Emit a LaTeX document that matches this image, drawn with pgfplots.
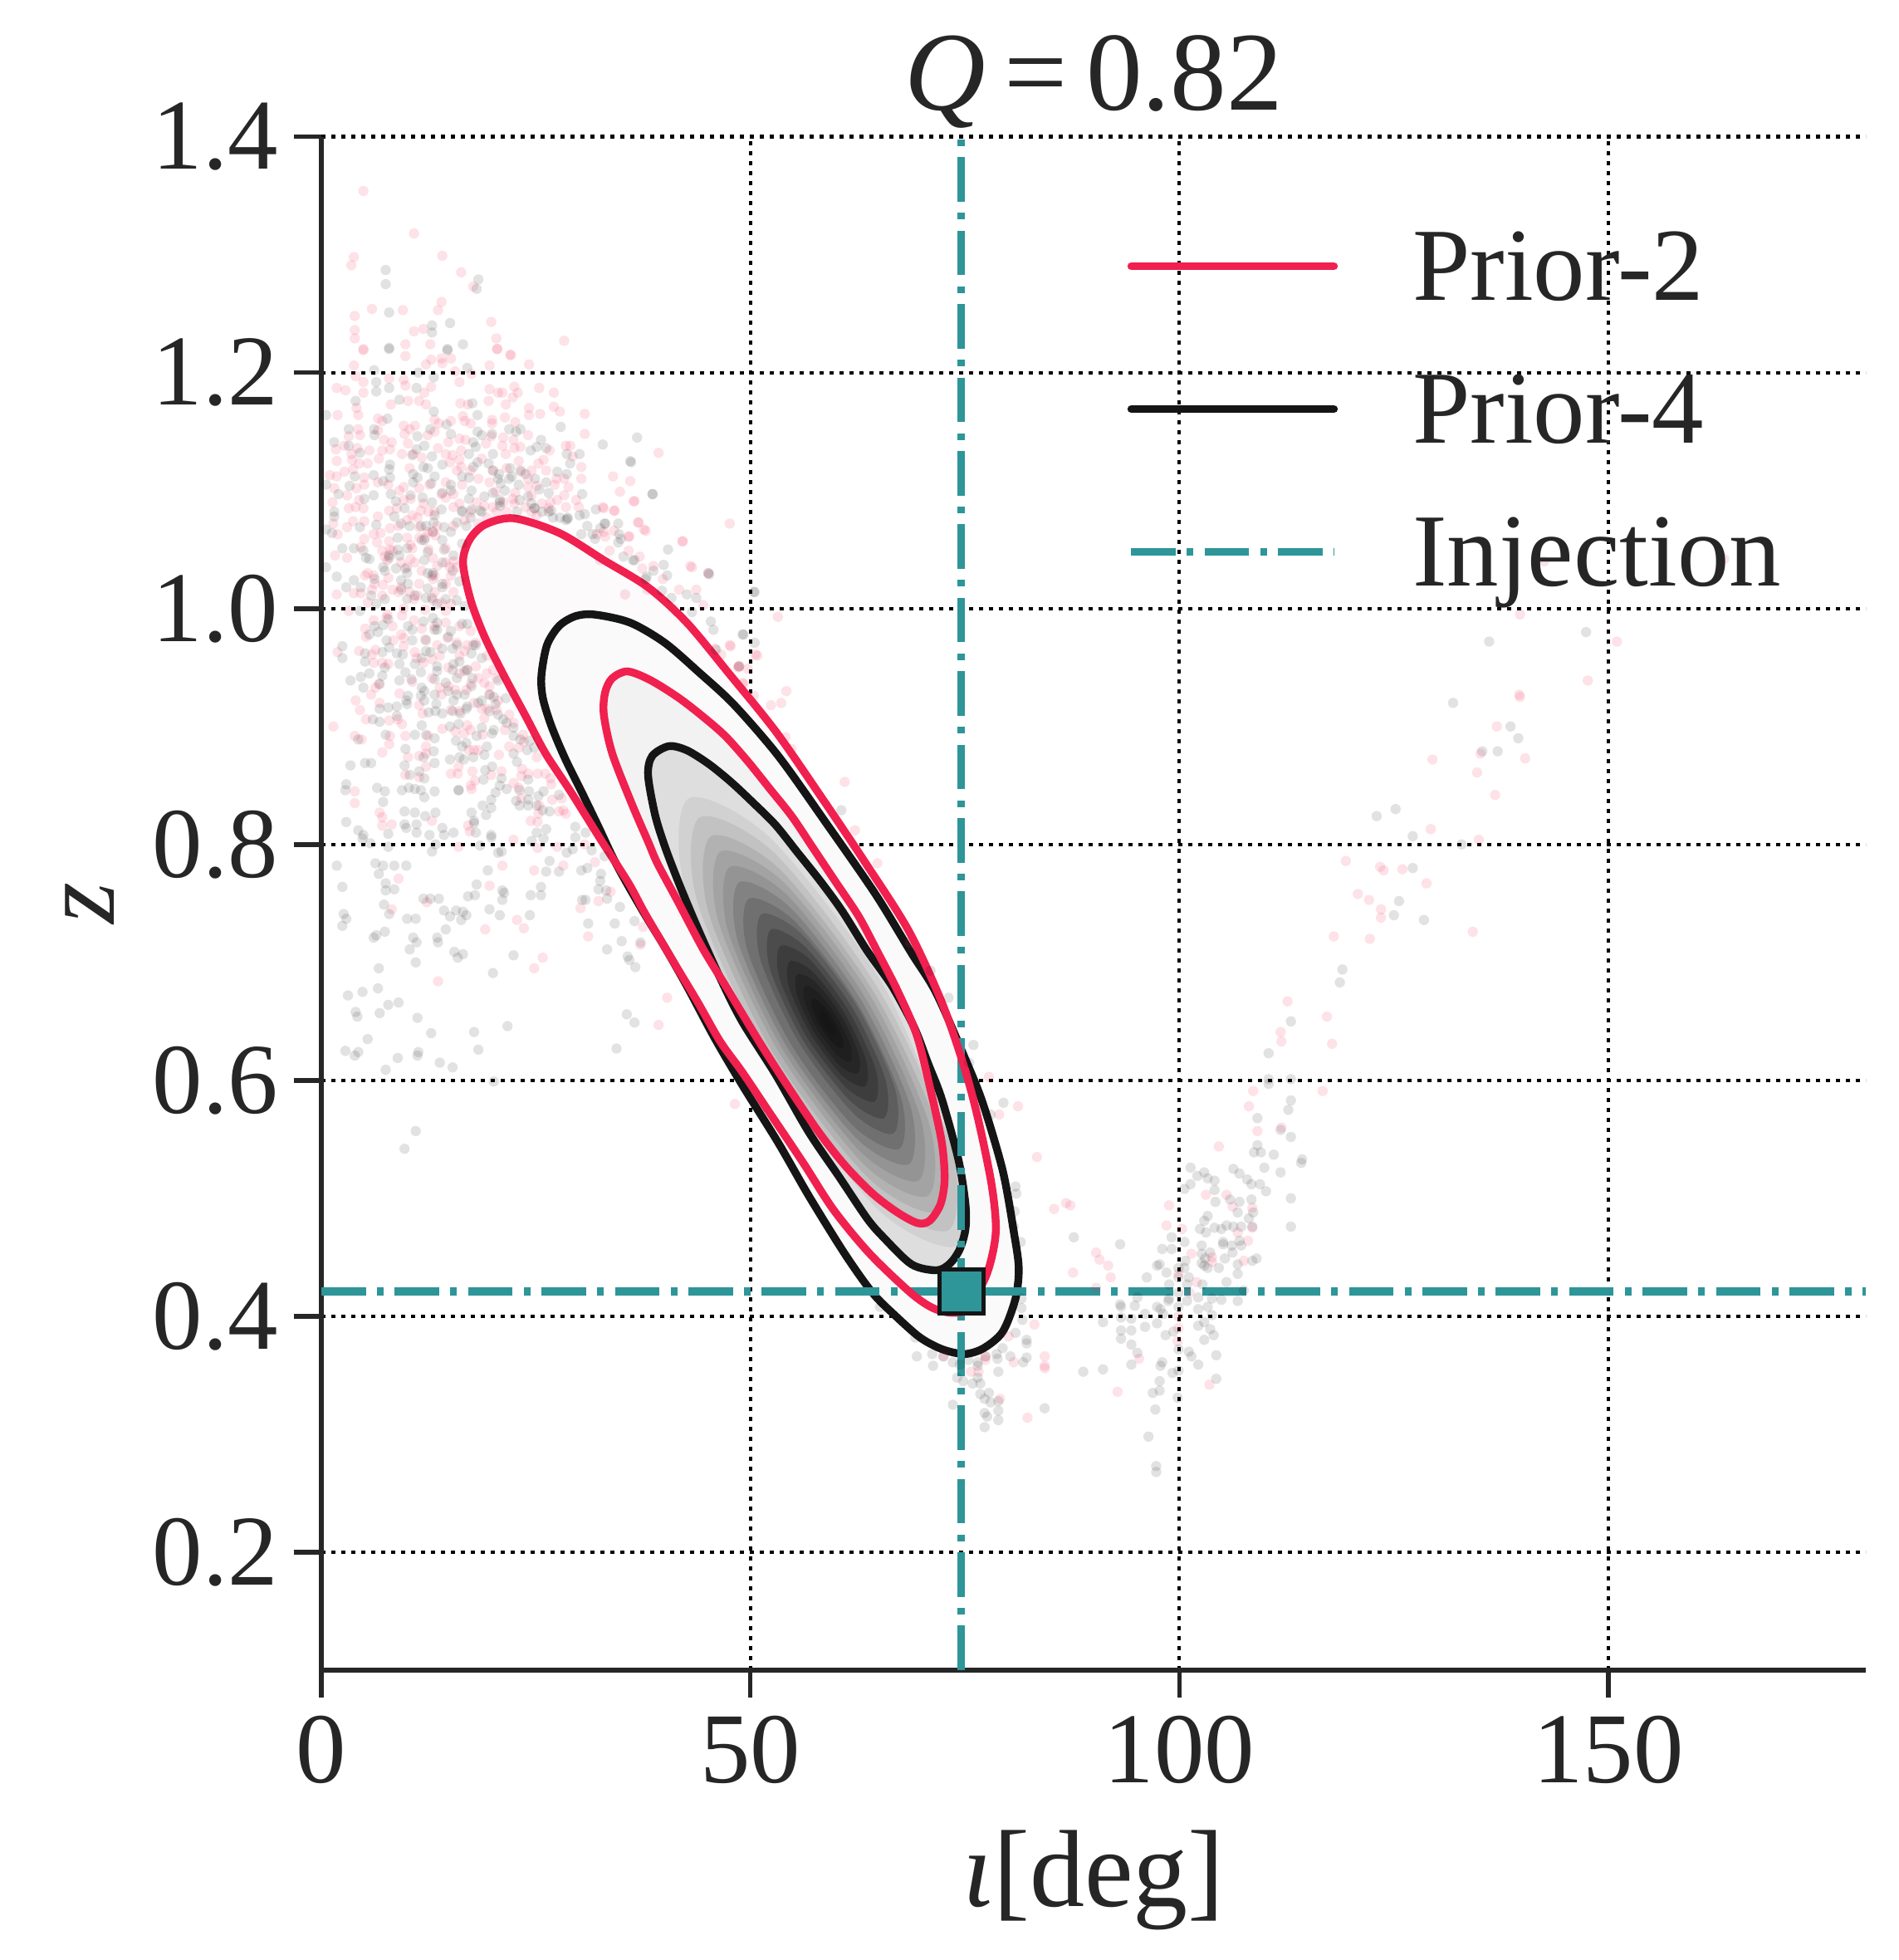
\documentclass[border=0pt]{standalone}
\usepackage{fontspec}
\setmainfont{Liberation Serif}
\usepackage{pgfplots}
\pgfplotsset{compat=1.18}
\definecolor{tx}{HTML}{262626}
\definecolor{crim}{HTML}{F0204F}
\definecolor{teal2}{HTML}{2E9599}
\definecolor{blk}{HTML}{151515}
\definecolor{pale}{HTML}{FCFAFA}
\pgfplotsset{
  lev/.style={forget plot,draw=none,fill=#1,smooth cycle},
  grayp/.style={forget plot,only marks,mark=*,mark size=1.55pt,mark options={draw opacity=0,fill=black,fill opacity=0.115}},
  pinkp/.style={forget plot,only marks,mark=*,mark size=1.55pt,mark options={draw opacity=0,fill=crim,fill opacity=0.13}},
  cont/.style={forget plot,draw=#1,line width=2.35pt,smooth cycle},
  inj/.style={forget plot,color=teal2,line width=2.3pt,dash pattern=on 13.4pt off 3.35pt on 2pt off 3.35pt},
}
\begin{document}
\begin{tikzpicture}
\path[use as bounding box] (-96.75pt,-87.25pt) rectangle (475pt,502.75pt);
\begin{axis}[
  scale only axis,width=465pt,height=461.6pt,
  xmin=0,xmax=180,ymin=0.1,ymax=1.4,
  axis x line*=bottom,axis y line*=left,
  axis line style={tx,line width=1.5pt,-},
  xtick={0,50,100,150},ytick={0.2,0.4,0.6,0.8,1.0,1.2,1.4},
  yticklabel style={/pgf/number format/fixed,/pgf/number format/fixed zerofill,/pgf/number format/precision=1},
  /pgf/number format/assume math mode=true,
  tick style={tx,line width=1.4pt},
  major tick length=8.3pt,tick align=outside,
  tick label style={font=\fontsize{30.2}{36}\selectfont,text=tx},
  xticklabel style={yshift=-2pt},
  yticklabel style={xshift=-1.2pt},
  grid=major,
  major grid style={black,line width=1.05pt,dash pattern=on 1.15pt off 1.85pt},
  title={\textit{Q}\,=\,0.82},
  title style={font=\fontsize{33.8}{38}\selectfont,text=tx,at={(axis description cs:0.5,1)},anchor=south,yshift=-7pt},
  xlabel={\textit{ι}[deg]},
  xlabel style={font=\fontsize{33}{38}\selectfont,text=tx,at={(axis description cs:0.5,-0.137)},anchor=center},
  ylabel={\textit{z}},
  ylabel style={font=\fontsize{32}{38}\selectfont,text=tx,at={(axis description cs:-0.15,0.5)},anchor=center},
  legend image code/.code={\draw[#1] (0pt,3.2pt) -- (61pt,3.2pt);},
  legend cell align=left,
  legend style={at={(axis description cs:0.5215,0.9415)},anchor=north west,draw=none,fill=none,
    font=\fontsize{31.2}{36}\selectfont,text=tx,row sep=13pt,inner sep=0pt,
    nodes={inner xsep=0pt,inner ysep=0pt,text height=22pt,text depth=8pt},
    /tikz/every even column/.style={column sep=0pt}},
]
% pink samples
\addplot[pinkp] coordinates {
(4.9,1.354)(10.8,1.318)(3.8,1.298)(3.5,1.291)(14.1,1.299)(16.3,1.285)(17.7,1.273)(14,1.26)(13.6,1.253)(3.9,1.248)(5.9,1.254)(9.5,1.253)(3.9,1.236)(3.9,1.229)(10.8,1.235)(11.9,1.237)(19.8,1.243)(20.4,1.229)(28.3,1.227)(20.5,1.22)(22.1,1.215)(4.9,1.22)(9.8,1.224)(12.7,1.224)
(39.3,1.132)(30.7,1.165)(30.7,1.148)(34,1.112)(36,1.108)(34.8,1.099)(36.4,1.091)(32.8,1.086)(34.1,1.083)(36.9,1.073)(37.6,1.067)(35.8,1.061)(47.6,1.072)(42.1,1.057)(43,1.036)(37.1,1.044)(38.7,1.036)(39.8,1.025)(41.7,1.016)(43.7,1.016)(44.5,1.003)(47.6,.969)(45.9,.966)(48.6,.951)(49.7,.949)(50.8,.96)(50.4,.926)(38,1.016)(35.4,1.012)(32.5,1.041)(32.1,1.063)
(4.9,1.219)(9.8,1.214)(12.8,1.211)(14,1.212)(15.1,1.212)(12.2,1.207)(14.1,1.208)(20.5,1.22)(22,1.215)(24.2,1.207)(19.6,1.206)(3.8,1.206)(15.6,1.201)(17.5,1.199)(4,1.197)(7.9,1.195)(4.9,1.192)(9.6,1.194)(1.8,1.187)(2.8,1.185)(4.9,1.183)(9.8,1.189)(12.8,1.188)(12,1.183)(16.1,1.192)(19.6,1.186)(20.6,1.183)(21.1,1.183)(22.5,1.188)(22.9,1.183)(25.4,1.187)(27.1,1.183)
(8.1,1.173)(10.1,1.176)(11.4,1.176)(12.2,1.173)(16.2,1.174)(17.1,1.173)(19.5,1.176)(21.5,1.173)(24.2,1.17)(27.1,1.171)(27.8,1.167)(22.3,1.179)(4.1,1.17)(4.3,1.164)(1.9,1.164)(6.6,1.161)(7.1,1.159)(24.2,1.164)(25.5,1.165)(16.5,1.163)(16.7,1.159)(17.4,1.157)(19.9,1.16)(21.4,1.162)(19.9,1.157)(22.6,1.158)(13.2,1.16)(13.7,1.157)(15.1,1.159)
(4.3,1.152)(4.5,1.147)(3.2,1.146)(6.6,1.151)(9.6,1.155)(9.7,1.148)(10.3,1.152)(10.9,1.155)(12.4,1.147)(13.2,1.15)(14.8,1.141)(16.1,1.144)(16.8,1.143)(19.2,1.14)(19.8,1.146)(21.2,1.145)(22.4,1.143)(24.1,1.147)(7.3,1.143)(8.2,1.141)(10.1,1.14)(2.7,1.138)(1.7,1.135)(4.2,1.136)(3.5,1.131)(5.6,1.134)(7.1,1.134)(8,1.135)(9.4,1.131)(10.7,1.131)(11.7,1.128)(14.5,1.131)(13.6,1.136)(16.3,1.134)(21.1,1.138)(22.5,1.136)(23.2,1.137)(21.5,1.131)(26.6,1.134)(28.5,1.138)(29,1.138)
(1.8,1.125)(3.6,1.126)(4.4,1.123)(5.4,1.123)(6.7,1.127)(10.3,1.119)(15,1.124)(16.1,1.126)(16.3,1.12)(15.8,1.117)(15.3,1.13)(18.7,1.127)(23,1.125)(25.3,1.123)(25.9,1.126)(29.3,1.129)(30.3,1.12)
(2.7,1.116)(3.7,1.118)(1,1.113)(1.8,1.112)(5,1.111)(5,1.105)(1.5,1.102)(4.1,1.102)(6.6,1.107)(7.8,1.105)(9.6,1.103)(11.4,1.102)(12.6,1.105)(16.4,1.105)(19.6,1.107)(20.3,1.099)(22.6,1.098)(24.1,1.103)(25.1,1.104)(27.2,1.105)(28.8,1.103)(30.3,1.11)(26.2,1.117)(24.5,1.117)
(3,1.096)(1.3,1.09)(3.2,1.085)(4,1.086)(4.9,1.085)(4.4,1.092)(9.6,1.092)(7.9,1.083)(8.8,1.085)(11.6,1.083)(12.5,1.082)(14.5,1.094)(15.4,1.086)(18.1,1.09)(20,1.086)(22.3,1.093)(24.5,1.096)(27.5,1.092)(25.1,1.079)(29.7,1.092)
(6.6,1.078)(1.4,1.072)(3.7,1.074)(3,1.069)(5,1.074)(8,1.068)(11.4,1.069)(13,1.065)(12.1,1.06)(13.3,1.062)(15.4,1.07)(6.9,1.064)(5,1.059)(6.1,1.063)(1.9,1.063)(6.5,1.056)(7.9,1.057)(10,1.06)(12.5,1.05)(14.5,1.051)(10.6,1.051)(1.6,1.045)(3,1.043)(4.6,1.052)(7.1,1.049)(8.3,1.049)(10.4,1.042)(13,1.043)(15.4,1.04)(7.7,1.041)
(5.4,1.03)(6.1,1.028)(7.8,1.026)(13.2,1.028)(13,1.025)(15.1,1.028)(15,1.035)(11.4,1.021)(9.3,1.018)(7.2,1.02)(5.9,1.016)(4.6,1.013)(1.8,1.012)(3.8,1.013)(9,1.014)(10.8,1.008)(13,1.007)(14,1.005)(15.1,1.004)(5.4,1.005)(3.2,.998)(7.7,.995)(9.6,1)(12.1,.999)(14.5,.998)
(9.1,1.1)(10.4,1.093)(11.9,1.089)(13.2,1.082)(10.6,1.079)(9,1.07)(10,1.075)(11.2,1.077)(13.5,1.07)(12.4,1.065)(11.4,1.06)(10.4,1.054)(8,1.05)(7.4,1.044)(9.3,1.039)(10,1.035)(10.9,1.039)(11.7,1.032)(13.5,1.036)(14.5,1.039)(15.8,1.035)(14.5,1.021)(15.4,1.014)(13.2,1.014)(11.2,1.011)(10.3,1.014)(8.3,1.016)(7.1,1.011)(6.2,1.021)(5.1,1.028)(14.5,1.107)(14,1.097)(15.4,1.097)(16.1,1.089)(17.4,1.082)(19,1.087)(18.3,1.072)(16.7,1.075)(21.2,1.09)(22.5,1.089)(23.8,1.086)(25.7,1.089)(26.7,1.09)(28.5,1.086)(30,1.086)(28.3,1.096)(26.5,1.085)(24.5,1.082)(20.4,1.082)(21.6,1.082)(19.3,1.077)(20,1.117)(18.3,1.11)(17.4,1.117)(21.6,1.119)(23.3,1.116)(24.1,1.11)(27.4,1.11)(28.3,1.11)
(13.2,.985)(14.5,.988)(16.1,.985)(17.4,.981)(15.8,.971)(16.7,.964)(13.5,.969)(12.9,.957)(14.8,.95)(16.1,.945)(18.3,.941)(19.6,.934)(17.4,.936)(14.8,.934)(12.9,.941)(19.3,.96)(20,.948)(10.6,.938)(9.3,.978)(21.9,.91)(20.6,.922)(19.3,.915)
(32.9,1.085)(34.2,1.083)(36.5,1.091)(37,1.073)(37.8,1.066)(34.1,1.066)(32.9,1.065)(35.9,1.061)(33.1,1.061)(35.8,1.049)(33.6,1.049)(37.4,1.034)(46.6,.961)(49.2,.936)(48.7,.951)
(1.9,.963)(5.1,.983)(6.1,.99)(8.3,.985)(5.2,.976)(7.6,.992)(9.4,.994)(9.6,.975)(8.4,.973)(9.6,.968)(4.4,.964)(6.3,.965)(5.9,.961)(6.1,.954)(7.8,.953)(7.1,.954)(10.8,.99)(11.7,.983)(12.1,.974)(10.9,.963)(11.1,.958)(11.9,.954)(13.8,.96)(14.7,.975)(16.1,.96)(17,.969)(18,.971)(17,.948)(18,.951)(19.3,.945)(19,.937)(20.4,.941)(6.7,.936)(6.3,.933)(5.8,.927)(9.1,.928)(4,.922)(6.8,.92)(4.5,.914)(5.2,.906)(11.4,.918)(11.8,.911)(14,.927)(13.8,.933)(15.6,.931)(15.1,.914)(16.9,.931)(16.1,.913)(17.8,.92)(18.7,.915)(19.6,.927)(20.4,.914)(19,.907)(7.9,.905)(8.9,.906)(9.4,.902)(1.4,.9)(14.1,.898)(15.6,.896)(17,.901)(17.4,.897)(16.6,.894)(18.8,.893)(21.4,.897)(22.4,.903)(3.9,.892)(4.7,.889)(8,.892)(9.8,.892)(12.4,.892)(7.9,.885)(12.2,.883)(23.5,.893)(23.6,.887)(21.9,.883)(23,.882)(7.1,.878)(10.1,.874)(11.4,.875)(12.2,.877)(17.2,.88)(17.8,.88)(18.3,.88)(20.7,.876)(25.1,.874)(12.2,.866)(16,.866)(9.8,.859)(11.4,.857)(15.1,.86)(15.9,.86)(17.6,.862)(17.9,.854)(19.8,.859)(21,.862)(23.4,.864)(23.3,.858)(24.1,.86)(25.2,.86)(26.1,.86)(26.7,.856)(3.9,.845)(17.4,.85)(17.5,.847)(22.4,.852)(23,.848)(26.8,.851)(3.9,.835)(23.3,.839)(26.9,.838)(28,.839)(25.4,.833)(6.8,.827)(7.1,.823)(25.3,.826)(27.7,.828)(28.2,.829)(28.5,.826)(7.1,.816)(8.2,.817)(12.9,.82)(17.1,.816)(24.4,.82)(25.2,.819)(17.3,.811)(22.4,.804)(16,.798)(25.2,.797)(27.5,.798)(21.1,.782)(28.2,.782)(24.8,.778)(9,.771)
(30.7,.8)(31.9,.785)(33.7,.76)
(8.2,.745)(12.3,.751)(19.6,.765)(22.8,.736)(23.6,.729)(19.1,.728)(30.2,.746)(32.3,.752)(31.1,.722)(37.5,.73)(37.2,.715)(25.8,.704)(24.8,.695)(13.6,.684)
(42.1,1.057)(43.2,1.035)(45.1,1.03)(53.2,.993)(50.6,.961)(47.7,.968)(48.6,.95)(49.1,.937)(54.2,.93)(53.6,.92)(52.4,.918)(54.8,.881)(54.1,.891)(61,.853)(62.2,.812)(64.8,.784)(68.6,.717)(81.2,.578)(77.8,.603)(79,.571)(83.4,.535)(39.3,.647)(40.3,.67)(48.2,.58)
(85.4,.491)(86.8,.496)(87.3,.494)(90.3,.454)(90.7,.448)(91.7,.443)(92,.433)(87.6,.437)(90.3,.424)(83.1,.393)(80.1,.383)(84.3,.366)(84.3,.358)(84.3,.356)(80.7,.361)(72.5,.366)(77.4,.366)(75.7,.353)(76.6,.353)(77.4,.363)(79.1,.33)(82.3,.314)(92.8,.336)(95.3,.364)(99.8,.379)(99.9,.39)(99.9,.4)(101.2,.42)(102,.429)(99.9,.436)(101.4,.453)(103.8,.446)(103.8,.45)(107.5,.447)(108,.464)(108.5,.475)(106.8,.471)(100.3,.474)(98.5,.477)(98.8,.494)(103.1,.503)(105.5,.503)(106.2,.493)(108.5,.492)(103.5,.342)
(139.7,.995)(147.6,.939)(139.6,.927)(139.7,.925)(137,.9)(135.1,.877)(140.3,.873)(129.5,.872)(134.7,.861)(136.8,.842)(129.3,.813)(134.9,.804)(119.4,.786)(123.4,.781)(123.8,.778)(126,.779)(128.8,.767)(120.8,.758)(122.1,.753)(123.5,.745)(123.5,.738)(118,.722)(122.2,.72)(134.2,.726)(112.6,.667)(117.2,.654)(111.8,.641)(111.9,.633)(117.8,.631)(108.6,.591)(116.7,.591)(108.1,.578)(111.9,.56)(109.1,.557)(104.6,.544)(142.5,1.04)(163.5,1.042)(151,.972)
};
% grey samples
\addplot[grayp] coordinates {
(7.5,1.287)(7.5,1.275)(18.3,1.279)(18.1,1.271)(7.9,1.251)(12.9,1.24)(12.9,1.234)(15,1.242)(7.9,1.221)(14.7,1.22)(16.5,1.224)
(36.8,1.145)(32.8,1.139)(36.1,1.124)(38.6,1.097)(34.6,1.056)(33,1.072)(40.4,1.05)(39.9,1.037)(40.3,1.028)(45.1,1.03)(42.6,1.012)(43.7,1.009)(43.2,.997)(40.8,1.009)(45.4,.989)(45.7,.982)(50.5,1.014)(49.2,.978)(50.5,.971)(36.3,1.041)(37.8,1.025)(34.7,1.063)(32.5,1.068)(31.9,1.059)(31,1.07)(30.4,1.097)
(.55,1.164)(3.2,1.152)(6.15,1.152)(6.2,1.147)(1.5,1.141)(3.2,1.138)(4.5,1.132)(4,1.176)(6.4,1.192)(6.4,1.184)(7.9,1.187)(6.15,1.202)(9.1,1.177)(11.1,1.187)(11.3,1.2)(13.1,1.196)(17,1.204)(14.7,1.219)(7.9,1.22)(7.7,1.161)(13.1,1.167)(17.6,1.174)(18.2,1.164)(27.9,1.154)
(12.7,1.152)(14.6,1.156)(11.2,1.146)(15.1,1.148)(18.2,1.15)(18.7,1.147)(19.9,1.148)(21.9,1.152)(23.2,1.152)(22.7,1.15)(25.6,1.143)(25.1,1.137)(26.2,1.136)(24.4,1.134)(28.6,1.131)(29,1.123)(30.1,1.131)
(12,1.138)(11.1,1.135)(10.6,1.13)(12.9,1.129)(17.7,1.141)(18,1.137)(17.2,1.131)(20,1.131)(19.5,1.123)(18.2,1.124)(17.7,1.12)(14.1,1.122)(12.4,1.119)(11.9,1.12)(8,1.122)(7.9,1.118)
(22,1.119)(20.7,1.114)(22.2,1.112)(20,1.117)(23.8,1.114)(27.5,1.116)(28.6,1.114)(24.9,1.11)
(3.9,1.112)(6.1,1.113)(.55,1.105)(3.3,1.104)(2,1.097)(7.2,1.108)(8,1.111)(10.7,1.114)(11.2,1.111)(10.7,1.107)(13.2,1.112)(12.8,1.106)(15.1,1.105)(17.2,1.111)(16.4,1.112)(17.5,1.1)(20.9,1.106)(23,1.105)(21.4,1.1)(25.4,1.101)(26.2,1.107)(26.5,1.098)
(5,1.093)(6.1,1.096)(8.1,1.097)(8.7,1.091)(10.4,1.096)(11.8,1.094)(12.9,1.09)(14.1,1.098)(15.1,1.1)(17.2,1.093)(19,1.095)(20.8,1.092)(20.8,1.087)(23.1,1.092)(24.1,1.095)
(1.5,1.082)(1.5,1.078)(9.7,1.085)(14,1.084)(16.4,1.082)(17.5,1.084)(18.7,1.082)(22.8,1.082)(24.9,1.085)(26.5,1.082)(27.8,1.077)(28.7,1.077)(30.1,1.079)
(8.5,1.078)(9.3,1.072)(10.3,1.07)(6.4,1.071)(4.5,1.069)(.55,1.067)(1.25,1.064)(11.6,1.07)(13.1,1.073)(14.3,1.069)(15.8,1.073)(16.9,1.07)(8.9,1.06)(12,1.058)(13,1.065)(14.1,1.058)(15.1,1.065)(16.4,1.055)
(2.45,1.051)(3.8,1.051)(4.9,1.049)(5.2,1.043)(5.6,1.042)(8.9,1.05)(10,1.051)(9.1,1.045)(7.9,1.043)(12.4,1.048)(12,1.041)(14.3,1.05)(14.1,1.039)(15.4,1.045)
(.55,1.035)(1.8,1.027)(3.8,1.024)(2.9,1.018)(4.6,1.018)(7.2,1.035)(8.7,1.034)(9.8,1.034)(6.2,1.025)(9.3,1.024)(10.1,1.021)(12.4,1.03)(13,1.03)(14.1,1.021)(12.4,1.017)(16.1,1.023)(15.3,1.032)(5.8,1.011)(7.4,1.008)(6.4,1.004)(4.5,.998)(10,1.008)(10.9,1.011)(12.2,1.009)(13.5,1.004)(15.8,1.007)(16.7,1.002)
(7.9,1.045)(11.7,1.058)(12.9,1.028)(14.1,1.018)(12.9,1.009)(14.5,1.008)(10,1.03)(9.3,1.016)(7.4,1.032)(12.2,1.07)(13.2,1.079)(20,1.098)(20.6,1.11)(23.2,1.117)(21.9,1.11)(24.5,1.089)(25.7,1.082)(27,1.077)(28.5,1.075)(17.4,1.077)
(16.4,1.083)(18.5,1.083)(20.8,1.09)(24.8,1.085)(26.8,1.083)(28.7,1.076)(30.7,1.08)(32,1.084)(33.1,1.072)(34.6,1.072)(34.9,1.059)(31.6,1.063)(30.3,1.063)(35.2,1.044)(36.5,1.041)(38.7,1.032)(37.9,1.027)(45.2,1.029)(39.7,1.015)(46,.965)(48.7,.951)
(13.5,.988)(15.1,.981)(13.2,.982)(17,.987)(17.7,.969)(16.1,.955)(16.7,.947)(15.3,.948)(13.5,.947)(12.2,.964)(17.5,.934)(15.8,.927)(17,.917)(18.3,.92)(20.6,.91)(21.6,.903)(23.2,.889)(24,.88)(18.7,.899)
(2.45,.968)(2.45,.958)(3.4,.939)(4.6,.942)(4.9,.933)(5.6,.945)(5.1,.962)(5.1,.955)(5.6,.978)(6.2,.985)(7.2,.986)(6.6,.98)(7.8,.991)(7.6,.973)(7.9,.967)(7.1,.963)(7.1,.943)(7.4,.95)(6.8,.936)(9.1,.939)(9.1,.953)(8.8,.962)(9.5,.961)(10.6,.973)(10.6,.982)(10.1,.985)(11.9,.989)(13,.992)(13.5,.982)(12.2,.973)(11.7,.958)(12.7,.963)(10.9,.953)(9.8,.946)(10.5,.94)(11.6,.946)(13.2,.94)(13.5,.951)(14.5,.937)(14.1,.966)(15.3,.966)(14.8,.976)(15.8,.969)(16.4,.987)(15.4,.953)(15.8,.941)(17,.948)(17.6,.941)(18,.969)(17.5,.962)(18.7,.958)(20.6,.939)(21.5,.924)(19.6,.927)(18.7,.922)(20.1,.925)(11.7,.933)(12,.93)(10.1,.926)(9.9,.922)(10,.919)(11.6,.926)(12,.922)(13.2,.927)(14.8,.93)(15.4,.922)(13.4,.919)(16.7,.927)(6.8,.915)(7.8,.916)(8.8,.917)(8.8,.909)(6,.906)(6.8,.904)(12.5,.912)(13.3,.913)(14.1,.911)(15.3,.913)(16.2,.911)(16.9,.915)(11.7,.901)(10.9,.893)(7.5,.893)(4.3,.889)(12.2,.893)(13.2,.89)(15,.9)(16,.902)(15.7,.888)(16.9,.886)(16.4,.883)(18.1,.892)(19.9,.894)(20.1,.897)(21.2,.906)(19.3,.883)(19.6,.913)(20.3,.919)(22.4,.899)(22.4,.892)(9.8,.881)(13.1,.879)(11.9,.874)(13.2,.869)(15,.872)(16.1,.874)(16.6,.872)(17.7,.874)(19,.876)(22.4,.877)(22.8,.87)(24.8,.882)(24.3,.888)(3.4,.867)(5.1,.869)(5.8,.869)(9.7,.867)(10.3,.859)(11.4,.862)(12,.856)(19.1,.863)(19.9,.866)(18.9,.855)(21,.856)(24.1,.855)(2.9,.851)(2.8,.846)(6.5,.848)(7.4,.845)(9.4,.846)(10.2,.848)(10.9,.847)(11.6,.846)(13.2,.845)(12,.84)(16,.846)(16,.846)(20.8,.85)(20.3,.844)(21.6,.847)(23.1,.846)(24.2,.845)(25.3,.841)(25.9,.845)(27.7,.842)(7.2,.836)(19.8,.838)(22.7,.837)(24.1,.838)(23.1,.833)(24.1,.833)(18.8,.833)(19.8,.831)(25.1,.833)(26.6,.828)(25.8,.829)(9.7,.828)(10.9,.827)(13.3,.827)(12.1,.824)(17.5,.827)(19.2,.825)(17.8,.82)(2.9,.819)(11.1,.817)(9.7,.817)(9.9,.814)(4.3,.812)(14.1,.814)(17.8,.818)(7.8,.809)(4.9,.808)(4.8,.805)(11.1,.81)(12.6,.808)(14.3,.808)(15.4,.81)(18,.81)(19.8,.808)(19.8,.806)(26.2,.813)(25.1,.81)(29.6,.815)(29.6,.806)(24.5,.803)(25.9,.805)(5.7,.801)(7.8,.798)(13.3,.8)(18.5,.799)(29.3,.796)(28.6,.793)(12.9,.794)(20.6,.793)(21,.794)(1.8,.782)(6.3,.784)(7.2,.782)(8.5,.782)(9.9,.782)(6.7,.775)(19.4,.778)(26.6,.786)(26.2,.777)(27.7,.777)(30.3,.778)
(31,.78)(32.6,.775)(30.8,.81)(33,.79)(31.5,.795)
(2.45,.764)(7.5,.767)(7.5,.761)(8.5,.762)(7.3,.749)(2.6,.741)(2.9,.737)(2.45,.731)(7.9,.741)(7.4,.726)(6.4,.723)(6.1,.721)(10,.737)(11,.737)(10.7,.721)(11.1,.717)(10.3,.711)(11,.7)(6.7,.695)(6.6,.678)(4.8,.675)(3.1,.672)(9,.666)(7.8,.664)(6.8,.657)(4,.658)(4.2,.654)(11.2,.653)(11.9,.754)(12.7,.754)(13.7,.754)(14.3,.744)(15,.739)(15.7,.744)(16.5,.743)(16.9,.74)(16.3,.736)(14.5,.728)(13.5,.721)(13.6,.717)(15.5,.709)(15.9,.704)(16.5,.707)(17.1,.756)(17.9,.757)(18.1,.766)(19.6,.745)(20.8,.74)(21.1,.761)(21.3,.759)(21.1,.753)(24.3,.74)(24.4,.757)(25.6,.764)(25.6,.757)(22.4,.706)(20,.691)(30.4,.753)(30.8,.753)(32.3,.762)(33.2,.761)(33.3,.754)(32.5,.769)(34.8,.747)(31.1,.733)(34.2,.733)(36.5,.735)(35,.718)(33.3,.711)(37.2,.717)(35.7,.705)(35.9,.702)(36.6,.696)(35.6,.656)(36.5,.649)(34.4,.627)(21.7,.646)(17.8,.641)(18.3,.626)(12.8,.64)(5.4,.635)(2.8,.625)(4.3,.624)(3.9,.621)(11.3,.624)(11.2,.621)(8.9,.619)(7.5,.609)(13.8,.615)(15.3,.611)(20.1,.599)(11,.557)(9.7,.542)
(38.6,1.097)(36,1.125)(50.4,1.014)(49.1,.978)(60.6,.829)(71,.693)(73.1,.67)(76,.63)(75.5,.615)(79.5,.581)(78,.571)
(80.9,.51)(81,.504)(80.8,.489)(80.7,.476)(81.5,.463)(87.7,.467)(93.1,.461)(81.6,.415)(81.6,.407)(81.7,.397)(80.9,.386)(82.2,.38)(82.2,.377)(82.2,.365)(80.3,.366)(81.8,.361)(69.4,.366)(71.2,.368)(71.3,.358)(72.5,.366)(73.6,.361)(74.4,.359)(75.4,.363)(76.5,.361)(76.5,.358)(77.4,.366)(78.7,.368)(78.8,.364)(79.4,.373)(78.9,.353)(74.1,.348)(74.8,.345)(75.9,.343)(76.5,.348)(76.8,.343)(76.8,.334)(77.8,.335)(77.3,.33)(78,.327)(78.9,.328)(73.6,.325)(77.3,.318)(77.6,.315)(78.9,.32)(78.9,.312)(77.3,.306)(84.3,.322)(88.8,.353)(91.1,.355)(65.1,.408)(69.2,.382)
(93.1,.41)(93.2,.408)(94.8,.409)(95.1,.416)(93.2,.399)(94.4,.398)(96,.402)(91.1,.395)(93.2,.388)(94.4,.388)(93.2,.381)(94.4,.376)(95.1,.369)(96,.391)(97.4,.408)(97.8,.406)(98.1,.402)(97.4,.394)(98.4,.384)(99.3,.387)(96.2,.433)(97.4,.443)(97.7,.444)(98.5,.437)(98.8,.427)(98.8,.415)(98.7,.413)(99.9,.441)(100.7,.447)(100.6,.441)(99.9,.433)(101.1,.433)(100.9,.427)(99.9,.42)(99.9,.408)(100.9,.413)(102.2,.416)(102.7,.427)(102.2,.406)(103.3,.408)(103.8,.415)(103.8,.401)(102.9,.395)(102.2,.392)(103.6,.389)(104,.384)(102.9,.38)(104.9,.414)(106.8,.413)(105.5,.429)(103.3,.441)(104.6,.441)(102.6,.445)(102.9,.443)(103,.449)(102.6,.453)(103.6,.454)(102.6,.46)(105.1,.463)(105.1,.461)(106.1,.46)(107,.464)(107.2,.46)(106.2,.454)(105.3,.449)(106.8,.444)(106.8,.436)(108.5,.447)(109,.449)(107.5,.422)
(99.1,.467)(98,.457)(99.1,.457)(100.6,.463)(102.4,.474)(103.1,.471)(104.1,.475)(104.9,.474)(105.5,.477)(106.3,.476)(107.2,.476)(108.5,.476)(108.1,.483)(108.6,.488)(106.8,.488)(102.9,.481)(103.3,.485)(104.2,.497)(104.1,.507)(104.1,.515)(103.3,.517)(102.9,.522)(102.1,.519)(101.3,.512)(100.6,.508)(101.3,.526)(105.9,.499)(107,.497)(108.4,.499)(107,.521)(106.3,.525)(107.9,.516)(108.4,.512)(109.4,.512)(110.1,.506)(109.9,.526)(111.8,.522)(113,.5)(113,.476)(114.2,.53)
(99.9,.372)(101.1,.37)(101.4,.366)(102.2,.359)(104.3,.367)(98,.361)(97.8,.358)(99.9,.354)(99.2,.352)(97.7,.345)(97.7,.337)(96.9,.335)(99.8,.331)(97.2,.321)(104.3,.347)(94.4,.359)(96.4,.298)(97.3,.273)(97.3,.268)
(136.1,.972)(147.4,.98)(131.9,.92)(138.6,.9)(139.5,.89)(135.3,.879)(137.1,.879)(123,.824)(125.2,.83)(127.2,.807)(132.9,.8)(127.2,.78)(125.6,.752)(125,.74)(128.5,.736)(119,.694)(118.7,.683)(113,.65)(110.4,.623)(110.4,.601)(110.4,.597)(113,.601)(113,.583)(112.7,.575)(109.1,.568)(111.8,.558)(113,.552)(109.1,.545)(108.7,.539)(109.5,.539)(111,.537)(114.3,.533)
};
% density, nested levels
\addplot[lev=pale] coordinates {(22.42,1.0765)(27.75,1.064)(32.92,1.041)(38.08,1.018)(42.6,.988)(47.5,.945)(52.94,.896)(58.1,.842)(63.27,.786)(68.44,.727)(72.32,.666)(74.9,.612)(76.52,.568)(78.13,.511)(78.6,.471)(77.57,.436)(75.34,.407)(73.49,.403)(71.27,.407)(68.67,.42)(63.92,.453)(59.72,.49)(56.17,.53)(52.29,.572)(49.06,.607)(46.48,.633)(43.89,.666)(41,.701)(37.76,.741)(35.82,.767)(32.4,.806)(29.04,.845)(26.14,.877)(23.87,.908)(21.29,.943)(19.03,.976)(17.41,1.007)(16.51,1.039)(17.25,1.058)(19.03,1.071)};
\addplot[lev=black!2] coordinates {(31.95,.9948)(36,.988)(40.02,.971)(44,.946)(48.09,.9185)(53.26,.875)(58.75,.819)(64.57,.758)(68.77,.708)(71.67,.674)(75.23,.615)(77.17,.579)(79.43,.523)(80.72,.471)(81.28,.441)(80.9,.415)(79.42,.387)(77.2,.373)(74.97,.368)(72.38,.372)(69.78,.382)(66.82,.401)(64.22,.42)(61,.453)(56.82,.502)(53.26,.547)(49.06,.596)(45.83,.636)(42.6,.68)(40.02,.713)(37.43,.744)(34.36,.7835)(32.3,.815)(30.33,.8446)(28.4,.873)(26.78,.901)(25.81,.9244)(25.65,.9432)(26.3,.969)(27.75,.9855)(29.69,.9937)};
\addplot[lev=black!5] coordinates {(35.66,.9467)(38.3,.9395)(41.63,.9244)(44.54,.908)(47.12,.8916)(49.71,.8704)(52.29,.847)(54.87,.8235)(57.46,.7953)(60.04,.7672)(62.63,.739)(64.89,.708)(67.15,.676)(69.41,.638)(71.03,.591)(72.32,.547)(72.64,.516)(72.16,.495)(70.9,.481)(69.5,.479)(67.15,.488)(64.25,.504)(61.02,.528)(57.79,.558)(53.91,.6)(50.99,.6333)(47.12,.68)(44.54,.7107)(41.63,.7506)(39.2,.7835)(38.08,.8024)(36.14,.8352)(33.89,.8775)(32.92,.9103)(33.08,.929)(33.89,.9408)};
\addplot[lev=black!13] coordinates {(40.5,.8833)(42.6,.8798)(45.18,.8681)(47.77,.8528)(50.35,.8352)(52.94,.8165)(55.52,.793)(58.1,.7695)(60.69,.7437)(63.6,.71)(66.51,.68)(69.09,.645)(70.7,.6146)(72.32,.584)(74.26,.5324)(75.07,.495)(75.07,.474)(74.42,.457)(73.3,.445)(71.76,.439)(68.8,.444)(65.5,.467)(63.6,.483)(60.37,.518)(56.82,.556)(52.94,.605)(49.06,.6497)(46.6,.685)(44.1,.725)(41.9,.763)(40.1,.797)(38.9,.825)(38.08,.8587)(38.56,.875)};
\addplot[lev=black!18] coordinates {(74.2,.46)(73.6,.535)(65.62,.679)(52.39,.805)(42.8,.839)(42.45,.761)(51.58,.62)(64.81,.491)};
\addplot[lev=black!24] coordinates {(73.09,.473)(73.4,.544)(65.04,.676)(52.91,.792)(44.11,.823)(43.8,.752)(52.16,.62)(64.29,.504)};
\addplot[lev=black!30] coordinates {(71.77,.489)(72.06,.554)(64.45,.674)(53.42,.779)(45.43,.807)(45.14,.742)(52.75,.622)(63.78,.517)};
\addplot[lev=black!36] coordinates {(70.67,.502)(70.93,.561)(63.96,.672)(53.86,.768)(46.53,.794)(46.27,.735)(53.24,.625)(63.34,.528)};
\addplot[lev=black!42] coordinates {(69.58,.515)(69.81,.569)(63.48,.669)(54.29,.757)(47.62,.781)(47.39,.727)(53.72,.627)(62.91,.539)};
\addplot[lev=black!49] coordinates {(68.48,.529)(68.69,.577)(62.99,.667)(54.72,.746)(48.72,.768)(48.51,.719)(54.21,.629)(62.48,.55)};
\addplot[lev=black!56] coordinates {(67.38,.542)(67.57,.585)(62.5,.665)(55.15,.735)(49.82,.754)(49.63,.711)(54.7,.631)(62.05,.561)};
\addplot[lev=black!63] coordinates {(66.68,.555)(66.85,.593)(62.41,.663)(55.98,.724)(51.32,.741)(51.15,.703)(55.59,.633)(62.02,.572)};
\addplot[lev=black!70] coordinates {(65.59,.568)(65.73,.601)(61.93,.661)(56.41,.713)(52.41,.728)(52.27,.695)(56.07,.635)(61.59,.583)};
\addplot[lev=black!76] coordinates {(64.49,.582)(64.61,.609)(61.44,.659)(56.84,.703)(53.51,.714)(53.39,.687)(56.56,.637)(61.16,.594)};
\addplot[lev=black!81] coordinates {(63.39,.595)(63.49,.617)(60.95,.657)(57.27,.692)(54.61,.701)(54.51,.679)(57.05,.639)(60.73,.604)};
\addplot[lev=black!85] coordinates {(62.51,.606)(62.59,.623)(60.56,.655)(57.62,.683)(55.49,.69)(55.41,.673)(57.44,.641)(60.38,.613)};
\addplot[lev=black!88] coordinates {(61.63,.616)(61.69,.629)(60.17,.653)(57.96,.674)(56.37,.68)(56.31,.667)(57.83,.643)(60.04,.622)};
\addplot[lev=black!90] coordinates {(60.76,.627)(60.79,.635)(59.78,.651)(58.31,.665)(57.24,.669)(57.21,.661)(58.22,.645)(59.69,.631)};
\addplot[lev=black!91.5] coordinates {(59.88,.637)(59.9,.642)(59.39,.65)(58.66,.657)(58.12,.659)(58.1,.654)(58.61,.646)(59.35,.639)};
% black contours
\addplot[cont=blk] coordinates {(31.95,.9948)(36,.988)(40.02,.971)(44,.946)(48.09,.9185)(53.26,.875)(58.75,.819)(64.57,.758)(68.77,.708)(71.67,.674)(75.23,.615)(77.17,.579)(79.43,.523)(80.72,.471)(81.28,.441)(80.9,.415)(79.42,.387)(77.2,.373)(74.97,.368)(72.38,.372)(69.78,.382)(66.82,.401)(64.22,.42)(61,.453)(56.82,.502)(53.26,.547)(49.06,.596)(45.83,.636)(42.6,.68)(40.02,.713)(37.43,.744)(34.36,.7835)(32.3,.815)(30.33,.8446)(28.4,.873)(26.78,.901)(25.81,.9244)(25.65,.9432)(26.3,.969)(27.75,.9855)(29.69,.9937)};
\addplot[cont=blk] coordinates {(40.5,.8833)(42.6,.8798)(45.18,.8681)(47.77,.8528)(50.35,.8352)(52.94,.8165)(55.52,.793)(58.1,.7695)(60.69,.7437)(63.6,.71)(66.51,.68)(69.09,.645)(70.7,.6146)(72.32,.584)(74.26,.5324)(75.07,.495)(75.07,.474)(74.42,.457)(73.3,.445)(71.76,.439)(68.8,.444)(65.5,.467)(63.6,.483)(60.37,.518)(56.82,.556)(52.94,.605)(49.06,.6497)(46.6,.685)(44.1,.725)(41.9,.763)(40.1,.797)(38.9,.825)(38.08,.8587)(38.56,.875)};
% injection
\addplot[inj] coordinates {(74.6,0.1)(74.6,1.4)};
\addplot[inj] coordinates {(0,0.421)(180,0.421)};
\addplot[forget plot,only marks,mark=square*,mark size=6.6pt,mark options={fill=teal2,draw=blk,line width=1.2pt}] coordinates {(74.6,0.421)};
% red contours
\addplot[cont=crim] coordinates {(22.42,1.0765)(27.75,1.064)(32.92,1.041)(38.08,1.018)(42.6,.988)(47.5,.945)(52.94,.896)(58.1,.842)(63.27,.786)(68.44,.727)(72.32,.666)(74.9,.612)(76.52,.568)(78.13,.511)(78.6,.471)(77.57,.436)(75.34,.407)(73.49,.403)(71.27,.407)(68.67,.42)(63.92,.453)(59.72,.49)(56.17,.53)(52.29,.572)(49.06,.607)(46.48,.633)(43.89,.666)(41,.701)(37.76,.741)(35.82,.767)(32.4,.806)(29.04,.845)(26.14,.877)(23.87,.908)(21.29,.943)(19.03,.976)(17.41,1.007)(16.51,1.039)(17.25,1.058)(19.03,1.071)};
\addplot[cont=crim] coordinates {(35.66,.9467)(38.3,.9395)(41.63,.9244)(44.54,.908)(47.12,.8916)(49.71,.8704)(52.29,.847)(54.87,.8235)(57.46,.7953)(60.04,.7672)(62.63,.739)(64.89,.708)(67.15,.676)(69.41,.638)(71.03,.591)(72.32,.547)(72.64,.516)(72.16,.495)(70.9,.481)(69.5,.479)(67.15,.488)(64.25,.504)(61.02,.528)(57.79,.558)(53.91,.6)(50.99,.6333)(47.12,.68)(44.54,.7107)(41.63,.7506)(39.2,.7835)(38.08,.8024)(36.14,.8352)(33.89,.8775)(32.92,.9103)(33.08,.929)(33.89,.9408)};
% legend
\addlegendimage{crim,line width=2.35pt,line cap=round}
\addlegendentry{\hspace*{22.5pt}Prior-2}
\addlegendimage{blk,line width=2.35pt,line cap=round}
\addlegendentry{\hspace*{22.5pt}Prior-4}
\addlegendimage{teal2,line width=2.3pt,dash pattern=on 13.4pt off 3.35pt on 2pt off 3.35pt}
\addlegendentry{\hspace*{22.5pt}Injection}
\end{axis}
\end{tikzpicture}
\end{document}
